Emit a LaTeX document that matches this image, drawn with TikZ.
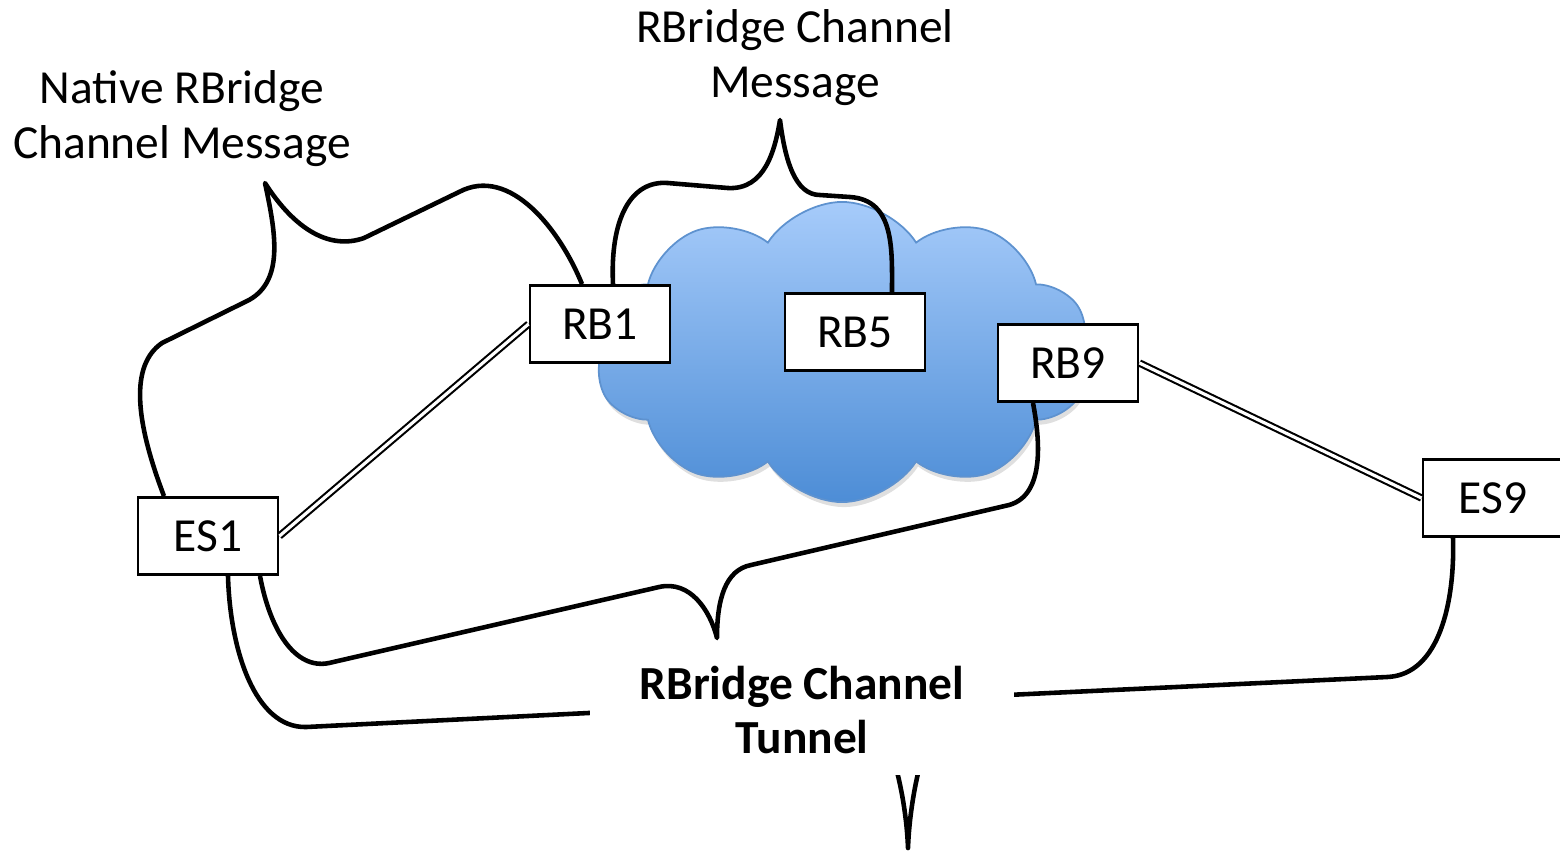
\documentclass[tikz,border=0pt]{standalone}
\usepackage{fontspec}
\setmainfont{Carlito}
\usepackage{tikz}
\usetikzlibrary{shapes.symbols, shadows, calc}

\definecolor{cloudtop}{HTML}{A6CBFA}
\definecolor{cloudbot}{HTML}{4D8DD6}
\definecolor{cloudline}{HTML}{5E92CF}

\begin{document}
\begin{tikzpicture}[x=0.01cm, y=-0.01cm,
     every node/.style={font=\fontsize{13.5}{15.6}\selectfont},
     rbox/.style={draw, fill=white, line width=0.8pt, minimum width=1.4cm, minimum height=0.77cm, inner sep=0pt},
     curly/.style={line width=1.3pt, line join=round},
     dlink/.style={double, double distance=0.9pt, line width=0.6pt}]
               \useasboundingbox (0,0) rectangle (1560,850);
               \node[cloud, cloud puffs=10, cloud puff arc=115, aspect=1.65,
                    minimum width=4.95cm, minimum height=3.0cm,
                    top color=cloudtop, bottom color=cloudbot, draw=cloudline, line width=0.5pt,
                    drop shadow={opacity=0.25, shadow xshift=0.02cm, shadow yshift=-0.05cm}] (net) at (842,352) {};
               \node[rbox] (RB1) at (600,324) {RB1};
               \node[rbox] (RB5) at (855,332) {RB5};
               \node[rbox] (RB9) at (1068,363) {RB9};
               \node[rbox] (ES1) at (208,536) {ES1};
               \node[rbox] (ES9) at (1493,498) {ES9};
               \draw[dlink] (ES1.east) -- (RB1.west);
               \draw[dlink] (RB9.east) -- (ES9.west);
               \node[align=center] (native) at (182,119) {Native RBridge\\Channel Message};
               \node[align=center] (message) at (795,58) {RBridge Channel\\Message};
               \draw[curly] ($(ES1.north)+(-44,0)$) .. controls (135,420) and (130,365) .. (162,343) -- (249,300)
                    .. controls (285,280) and (275,230) .. (265,183)
                    .. controls (295,230) and (330,250) .. (364,238) -- (459,192)
                    .. controls (510,165) and (560,230) .. ($(RB1.north)+(-18,0)$);
               \draw[curly] ($(RB1.north)+(13,0)$) .. controls (610,220) and (630,180) .. (668,183) -- (728,188)
                    .. controls (765,190) and (775,150) .. (780,120)
                    .. controls (785,160) and (795,195) .. (820,195) -- (850,197)
                    .. controls (895,200) and (892,250) .. ($(RB5.north)+(37,0)$);
               \draw[curly] ($(ES1.south)+(52,0)$) .. controls (270,630) and (295,670) .. (329,663) -- (659,587)
                    .. controls (690,580) and (710,610) .. (717,638)
                    .. controls (717,600) and (725,570) .. (751,565) -- (1009,505)
                    .. controls (1045,495) and (1040,440) .. ($(RB9.south)+(-35,0)$);
               \draw[curly] ($(ES1.south)+(20,0)$) .. controls (230,650) and (255,728) .. (306,727) -- (850,700)
                    .. controls (885,700) and (906,790) .. (908,848)
                    .. controls (910,790) and (930,697) .. (965,697) -- (1387,677)
                    .. controls (1440,675) and (1455,600) .. ($(ES9.south)+(-40,0)$);
               \node[fill=white, align=center, font=\fontsize{13.5}{15.6}\selectfont\bfseries,
                    minimum width=4.24cm, minimum height=1.3cm] (tunnel) at (802,710) {RBridge Channel\\Tunnel};
          \end{tikzpicture}
\end{document}
